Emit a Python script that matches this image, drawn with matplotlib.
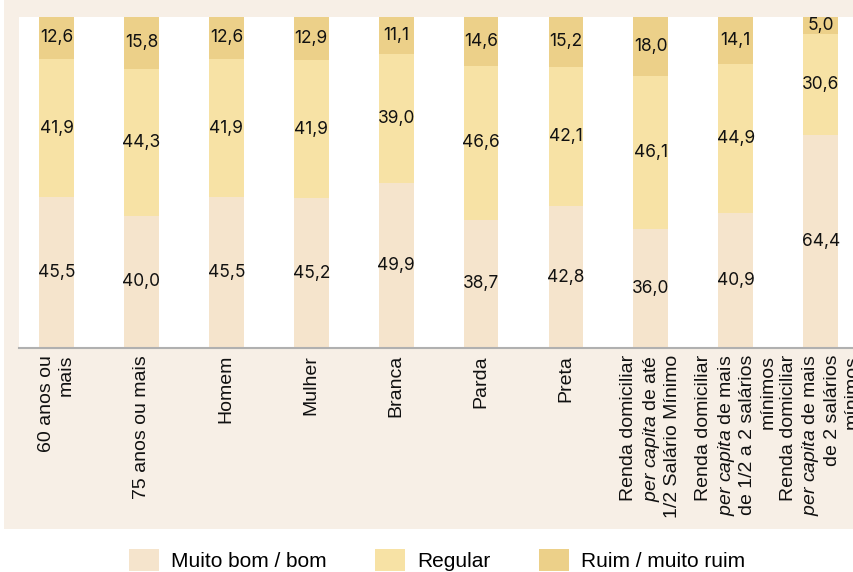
import matplotlib
matplotlib.use("Agg")
import matplotlib.pyplot as plt
from matplotlib.patches import Rectangle, Patch
import numpy as np

plt.rcParams['font.family'] = ['Liberation Sans', 'DejaVu Sans']
plt.rcParams['mathtext.fontset'] = 'custom'
plt.rcParams['mathtext.rm'] = 'Liberation Sans'
plt.rcParams['mathtext.it'] = 'Liberation Sans:italic'

categories = [
    "60 anos ou\nmais",
    "75 anos ou mais",
    "Homem",
    "Mulher",
    "Branca",
    "Parda",
    "Preta",
    "Renda domiciliar\n$\\it{per\\ capita}$ de até\n1/2 Salário Mínimo",
    "Renda domiciliar\n$\\it{per\\ capita}$ de mais\nde 1/2 a 2 salários\nmínimos",
    "Renda domiciliar\n$\\it{per\\ capita}$ de mais\nde 2 salários\nmínimos",
]
muito_bom = [45.5, 40.0, 45.5, 45.2, 49.9, 38.7, 42.8, 36.0, 40.9, 64.4]
regular = [41.9, 44.3, 41.9, 41.9, 39.0, 46.6, 42.1, 46.1, 44.9, 30.6]
ruim = [12.6, 15.8, 12.6, 12.9, 11.1, 14.6, 15.2, 18.0, 14.1, 5.0]
series_names = ["Muito bom / bom", "Regular", "Ruim / muito ruim"]

colors = ["#f5e4cc", "#f7e2a5", "#ecd089"]
panel_bg = "#f7efe6"

W, H = 854, 572
fig = plt.figure(figsize=(W / 100, H / 100), dpi=100, facecolor="white")

# beige panel behind the chart and its category labels
panel = Rectangle((4 / W, (H - 529) / H), 1 - 4 / W, 529 / H,
                  transform=fig.transFigure, facecolor=panel_bg,
                  edgecolor="none", zorder=-10)
fig.patches.append(panel)

ax = fig.add_axes([19 / W, (H - 348) / H, (W - 19) / W, 331 / H])
ax.set_zorder(5)
ax.set_facecolor("white")

x = np.arange(len(categories))
width = 0.41
series = [muito_bom, regular, ruim]
bottom = np.zeros(len(categories))
for vals, col, name in zip(series, colors, series_names):
    vals = np.array(vals)
    ax.bar(x, vals, width, bottom=bottom, color=col, label=name, zorder=2)
    for xi, b, v in zip(x, bottom, vals):
        ax.text(xi, b + v / 2, f"{v:.1f}".replace(".", ","),
                ha="center", va="center", fontsize=12.5,
                family=["Inter", "Liberation Sans"], color="#111111", zorder=3)
    bottom += vals

ax.set_xlim(-0.442, 9.393)
ax.set_ylim(0, 100)
ax.set_yticks([])
ax.set_xticks(x)
ax.set_xticklabels(categories, rotation=90, ha="center", va="top",
                   multialignment="right", fontsize=14, linespacing=1.22)
ax.tick_params(axis="x", length=0, pad=5, colors="#111111")
for s in ["top", "right", "left"]:
    ax.spines[s].set_visible(False)
ax.spines["bottom"].set_color("#b0b0b0")
ax.spines["bottom"].set_linewidth(1.5)

handles = [Patch(facecolor=c, edgecolor="none") for c in colors]
fig.legend(handles, series_names, loc="center", ncol=3,
           bbox_to_anchor=(437 / W, (H - 560) / H), frameon=False,
           prop={"family": ["Liberation Sans"], "size": 15},
           handlelength=1.45, handleheight=1.3, handletextpad=0.6,
           columnspacing=2.3)

fig.savefig("out.png", dpi=100, facecolor="white")
